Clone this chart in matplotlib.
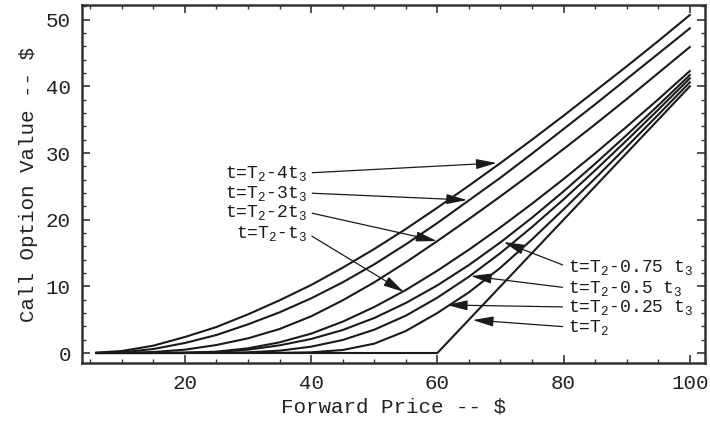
import numpy as np
import matplotlib
matplotlib.use("Agg")
import matplotlib.pyplot as plt
from matplotlib.ticker import MultipleLocator

plt.rcParams['font.family'] = ['Liberation Mono', 'DejaVu Sans Mono']
plt.rcParams['mathtext.fontset'] = 'custom'
plt.rcParams['mathtext.rm'] = 'Liberation Mono'

forward = [6, 10, 15, 20, 25, 30, 35, 40, 45, 50, 55, 60, 65, 70, 75, 80, 85, 90, 95, 100]

# call values, one list per time
c_4t3 = [0.05, 0.3, 1.1, 2.4, 3.9, 5.8, 7.9, 10.2, 12.8, 15.6, 18.6, 21.8, 25.1, 28.5, 32.0, 35.6, 39.3, 43.0, 46.8, 50.7]
c_3t3 = [0.0, 0.1, 0.6, 1.5, 2.7, 4.3, 6.1, 8.2, 10.6, 13.3, 16.3, 19.5, 22.9, 26.3, 29.9, 33.6, 37.3, 41.1, 44.9, 48.7]
c_2t3 = [0.0, 0.02, 0.15, 0.5, 1.2, 2.2, 3.6, 5.5, 7.9, 10.6, 13.6, 16.8, 20.1, 23.5, 27.0, 30.6, 34.3, 38.1, 42.0, 45.9]
c_1t3 = [0.0, 0.0, 0.0, 0.05, 0.2, 0.7, 1.6, 2.9, 4.7, 6.9, 9.45, 12.35, 15.5, 18.85, 22.4, 26.1, 29.95, 33.95, 38.05, 42.3]
c_075t3 = [0.0, 0.0, 0.0, 0.03, 0.15, 0.5, 1.15, 2.1, 3.45, 5.25, 7.5, 10.15, 13.2, 16.6, 20.3, 24.25, 28.4, 32.7, 37.15, 41.7]
c_05t3 = [0.0, 0.0, 0.0, 0.0, 0.02, 0.1, 0.35, 0.95, 1.95, 3.5, 5.6, 8.3, 11.45, 15.0, 18.9, 23.05, 27.4, 31.9, 36.5, 41.2]
c_025t3 = [0.0, 0.0, 0.0, 0.0, 0.0, 0.0, 0.02, 0.1, 0.45, 1.4, 3.3, 6.0, 9.1, 12.8, 17.05, 21.55, 26.2, 30.95, 35.75, 40.6]

# at expiry: intrinsic value, strike 60
expiry_f = [6, 60, 100]
expiry_c = [0, 0, 40]

fig = plt.figure(figsize=(7.1, 4.23), dpi=100)
ax = fig.add_axes([82/710, 1 - 363/423, 623/710, 358/423])

for ys in [c_4t3, c_3t3, c_2t3, c_1t3, c_075t3, c_05t3, c_025t3]:
    ax.plot(forward, ys, color='#1a1a1a', lw=1.5)
ax.plot(expiry_f, expiry_c, color='#1a1a1a', lw=1.5)

ax.set_xlim(3.7, 102.4)
ax.set_ylim(-1.5, 52.2)
ax.xaxis.set_major_locator(MultipleLocator(20))
ax.xaxis.set_minor_locator(MultipleLocator(5))
ax.yaxis.set_major_locator(MultipleLocator(10))
ax.yaxis.set_minor_locator(MultipleLocator(2))
ax.tick_params(which='both', direction='in', top=True, right=True,
               color='#333333', labelsize=15, labelcolor='#222222')
ax.tick_params(which='major', length=6, width=1.2, pad=8)
ax.tick_params(which='minor', length=3, width=1)
for s in ax.spines.values():
    s.set_linewidth(1.8)
    s.set_color('#333333')

ax.set_xlabel("Forward Price -- $", fontsize=15, color='#222222', labelpad=3)
ax.set_ylabel("Call Option Value -- $", fontsize=15, color='#222222', labelpad=6)

arrow = dict(arrowstyle='-|>,head_length=0.9,head_width=0.22', color='#1a1a1a',
             lw=0.9, mutation_scale=14, shrinkA=2, shrinkB=0)

# left hand labels
left = [("t=T${}_2$-4t${}_3$", (69.4, 28.5), 27.0),
        ("t=T${}_2$-3t${}_3$", (64.7, 22.95), 24.0),
        ("t=T${}_2$-2t${}_3$", (59.9, 16.8), 21.15),
        ("t=T${}_2$-t${}_3$", (54.7, 9.15), 18.0)]
for txt, tip, ty in left:
    ax.annotate(txt, xy=tip, xytext=(39.3, ty), ha='right', va='center',
                fontsize=13, color='#1a1a1a',
                arrowprops=dict(arrow, relpos=(1, 0.5)))

# right hand labels
right = [("t=T${}_2$-0.75 t${}_3$", (70.5, 16.65), 12.9),
         ("t=T${}_2$-0.5 t${}_3$", (65.3, 11.55), 9.75),
         ("t=T${}_2$-0.25 t${}_3$", (61.5, 7.2), 6.9),
         ("t=T${}_2$", (65.6, 4.95), 3.9)]
for txt, tip, ty in right:
    ax.annotate(txt, xy=tip, xytext=(80.7, ty), ha='left', va='center',
                fontsize=13, color='#1a1a1a',
                arrowprops=dict(arrow, relpos=(0, 0.5)))

fig.savefig("out.png", dpi=100)
